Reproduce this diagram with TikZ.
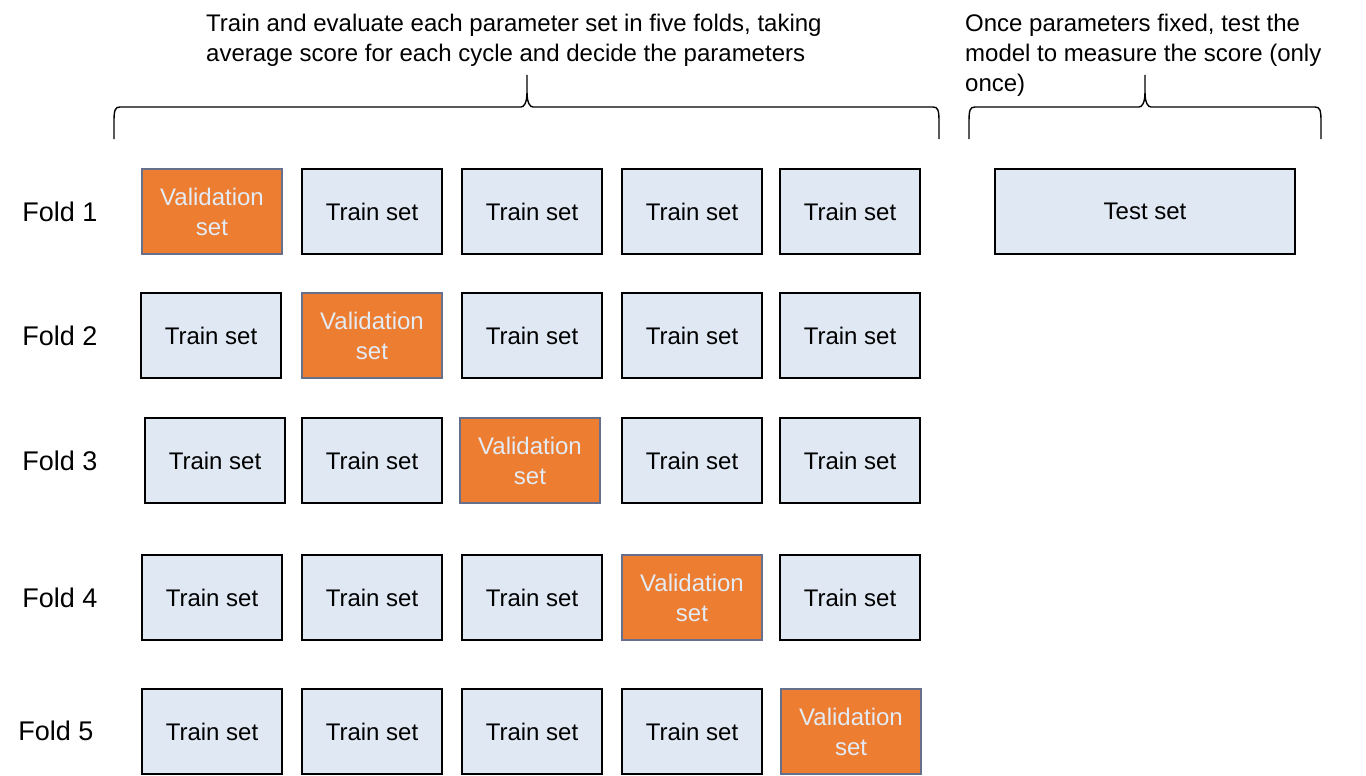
\documentclass[tikz,border=0pt]{standalone}
\usepackage{fontspec}
\setmainfont{Liberation Sans}
\definecolor{trainblue}{HTML}{DFE8F3}
\definecolor{valorange}{HTML}{ED7D31}
\definecolor{valborder}{HTML}{66708C}
\definecolor{valtext}{HTML}{E3EBF5}
\tikzset{
  trainbox/.style={draw=black, line width=2.6pt, fill=trainblue, anchor=north west,
    minimum width=140pt, minimum height=85pt, inner sep=0pt, outer sep=0pt,
    font=\fontsize{24}{30}\selectfont, text=black},
  valbox/.style={trainbox, draw=valborder, line width=2pt, fill=valorange, text=valtext, align=center},
  foldlabel/.style={font=\fontsize{27}{30}\selectfont, inner sep=0pt},
  bracetext/.style={font=\fontsize{24}{30}\selectfont, align=left, anchor=north west, inner sep=0pt},
  bracepath/.style={draw=black, line width=1.4pt}
}
\begin{document}
\begin{tikzpicture}[x=1pt,y=-1pt]
\useasboundingbox (0,0) rectangle (1366,776);
\fill[white] (0,0) rectangle (1366,776);

% top texts
\node[bracetext] (t1) at (206,14) {Train and evaluate each parameter set in five folds, taking\\average score for each cycle and decide the parameters};
\node[bracetext] (t2) at (965,14) {Once parameters fixed, test the\\model to measure the score (only\\once)};

% braces
\draw[bracepath] (114,139) -- (114,122) .. controls (114,110) and (115,107) .. (120,107)
  -- (521,107) .. controls (524,107) and (527,103) .. (527,92) -- (527,75)
  -- (527,92) .. controls (527,103) and (530,107) .. (533,107)
  -- (933,107) .. controls (938,107) and (939,110) .. (939,122) -- (939,139);
\draw[bracepath] (969,139) -- (969,122) .. controls (969,110) and (970,107) .. (975,107)
  -- (1139,107) .. controls (1142,107) and (1145,103) .. (1145,92) -- (1145,75)
  -- (1145,92) .. controls (1145,103) and (1148,107) .. (1151,107)
  -- (1315,107) .. controls (1320,107) and (1321,110) .. (1321,122) -- (1321,139);

% fold labels
\node[foldlabel] (f1) at (60,212) {Fold 1};
\node[foldlabel] (f2) at (60,336) {Fold 2};
\node[foldlabel] (f3) at (60,461) {Fold 3};
\node[foldlabel] (f4) at (60,598) {Fold 4};
\node[foldlabel] (f5) at (56,731) {Fold 5};

% row 1
\node[valbox]   (a1) at (142,169) {Validation\\set};
\node[trainbox] (a2) at (302,169) {Train set};
\node[trainbox] (a3) at (462,169) {Train set};
\node[trainbox] (a4) at (622,169) {Train set};
\node[trainbox] (a5) at (780,169) {Train set};
\node[trainbox, minimum width=300pt] (test) at (995,169) {Test set};

% row 2
\node[trainbox] (b1) at (141,293) {Train set};
\node[valbox]   (b2) at (302,293) {Validation\\set};
\node[trainbox] (b3) at (462,293) {Train set};
\node[trainbox] (b4) at (622,293) {Train set};
\node[trainbox] (b5) at (780,293) {Train set};

% row 3
\node[trainbox] (c1) at (145,418) {Train set};
\node[trainbox] (c2) at (302,418) {Train set};
\node[valbox]   (c3) at (460,418) {Validation\\set};
\node[trainbox] (c4) at (622,418) {Train set};
\node[trainbox] (c5) at (780,418) {Train set};

% row 4
\node[trainbox] (d1) at (142,555) {Train set};
\node[trainbox] (d2) at (302,555) {Train set};
\node[trainbox] (d3) at (462,555) {Train set};
\node[valbox]   (d4) at (622,555) {Validation\\set};
\node[trainbox] (d5) at (780,555) {Train set};

% row 5
\node[trainbox] (e1) at (142,689) {Train set};
\node[trainbox] (e2) at (302,689) {Train set};
\node[trainbox] (e3) at (462,689) {Train set};
\node[trainbox] (e4) at (622,689) {Train set};
\node[valbox]   (e5) at (781,689) {Validation\\set};
\end{tikzpicture}
\end{document}
